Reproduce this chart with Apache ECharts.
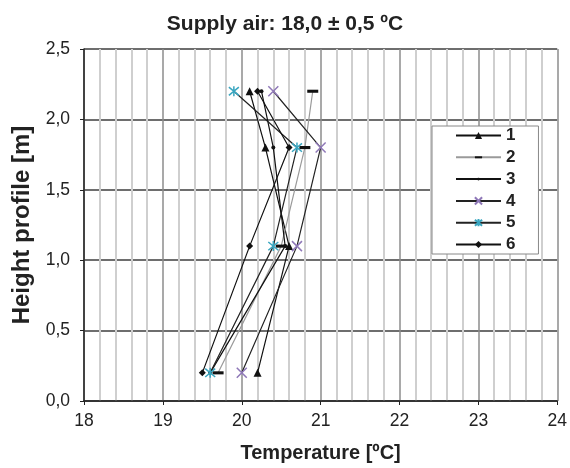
<!DOCTYPE html>
<html>
<head>
<meta charset="utf-8">
<script src="https://cdn.jsdelivr.net/npm/echarts@6/dist/echarts.min.js"></script>
<style>html,body{margin:0;padding:0;background:#fff}#c{width:570px;height:468px}</style>
</head>
<body>
<div id="c"></div>
<script>
const heights = [0.2, 1.1, 1.8, 2.2];
const seriesNames = ['1', '2', '3', '4', '5', '6'];
const s1 = [20.2, 20.6, 20.3, 20.1];
const s2 = [19.7, 20.5, 20.8, 20.9];
const s3 = [19.6, 20.55, 20.4, 20.25];
const s4 = [20.0, 20.7, 21.0, 20.4];
const s5 = [19.6, 20.4, 20.7, 19.9];
const s6 = [19.5, 20.1, 20.6, 20.2];
const xTicks = [18, 19, 20, 21, 22, 23, 24];
const yTicks = [0, 0.5, 1.0, 1.5, 2.0, 2.5];

const values = [s1, s2, s3, s4, s5, s6];
const pair = v => v.map((t, i) => [t, heights[i]]);

const FONT = 'Liberation Sans, Arial, sans-serif';
const X = 'path://M0,0L10,10M10,0L0,10';
const STAR = 'path://M0,0L10,10M10,0L0,10M5,-1L5,11';
const DASH = 'path://M0,0M10,10M0,3.6L10,3.6L10,6.4L0,6.4Z';
const DOT = 'path://M0,0M10,10M3,5A2,2,0,1,1,7,5A2,2,0,1,1,3,5Z';
const styles = [
  {symbol: 'triangle', symbolSize: 8, line: '#111', item: {color: '#111'}},
  {symbol: DASH, symbolSize: 11, line: '#9a9a9a', item: {color: '#111'}},
  {symbol: DOT, symbolSize: 10, line: '#111', item: {color: '#111'}},
  {symbol: X, symbolSize: 10, line: '#222', item: {color: 'rgba(0,0,0,0)', borderColor: '#8f78b8', borderWidth: 1.5}},
  {symbol: STAR, symbolSize: 10, line: '#222', item: {color: 'rgba(0,0,0,0)', borderColor: '#3aa6c0', borderWidth: 1.5}},
  {symbol: 'diamond', symbolSize: 7, line: '#111', item: {color: '#111'}}
];

const series = values.map((v, i) => ({
  name: seriesNames[i],
  type: 'line',
  data: pair(v),
  symbol: styles[i].symbol,
  symbolSize: styles[i].symbolSize,
  showAllSymbol: true,
  lineStyle: {color: styles[i].line, width: 1.2},
  itemStyle: styles[i].item,
  emphasis: {disabled: true},
  animation: false
}));

const chart = echarts.init(document.getElementById('c'), null, {renderer: 'canvas'});
chart.setOption({
  animation: false,
  title: {
    text: 'Supply air: 18,0 ± 0,5 ºC',
    left: 'center', top: 9,
    textStyle: {fontFamily: FONT, fontSize: 21, fontWeight: 'bold', color: '#222'}
  },
  grid: {left: 84, right: 12, top: 49, bottom: 65, containLabel: false},
  legend: {
    orient: 'vertical', left: 432, top: 126,
    data: seriesNames,
    itemWidth: 45, itemHeight: 9, itemGap: 4.8,
    padding: [1, 23, 1, 23],
    backgroundColor: '#fff', borderColor: '#888', borderWidth: 1,
    textStyle: {fontFamily: FONT, fontSize: 17, fontWeight: 'bold', color: '#222'}
  },
  xAxis: {
    type: 'value', min: xTicks[0], max: xTicks[xTicks.length - 1], interval: 1,
    name: 'Temperature [ºC]', nameLocation: 'middle', nameGap: 42,
    nameTextStyle: {fontFamily: FONT, fontSize: 20, fontWeight: 'bold', color: '#222'},
    axisLine: {show: true, onZero: false, lineStyle: {color: '#222', width: 1.5}},
    axisTick: {show: true, inside: false, length: 4, lineStyle: {color: '#222'}},
    axisLabel: {fontFamily: FONT, fontSize: 17.5, color: '#222', margin: 11},
    splitLine: {show: true, lineStyle: {color: '#8c8c8c', width: 1.5}},
    minorTick: {show: false, splitNumber: 5},
    minorSplitLine: {show: true, lineStyle: {color: '#cfcfcf', width: 2}}
  },
  yAxis: {
    type: 'value', min: yTicks[0], max: yTicks[yTicks.length - 1], interval: 0.5,
    name: 'Height profile [m]', nameLocation: 'middle', nameGap: 44, nameRotate: 90,
    nameTextStyle: {fontFamily: FONT, fontSize: 24, fontWeight: 'bold', color: '#222'},
    axisLine: {show: true, lineStyle: {color: '#222', width: 1.5}},
    axisTick: {show: true, inside: false, length: 4, lineStyle: {color: '#222'}},
    axisLabel: {fontFamily: FONT, fontSize: 17.5, color: '#222', margin: 14,
      formatter: v => v.toFixed(1).replace('.', ',')},
    splitLine: {show: true, lineStyle: {color: '#6e6e6e', width: 2}}
  },
  series: series
});
</script>
</body>
</html>
